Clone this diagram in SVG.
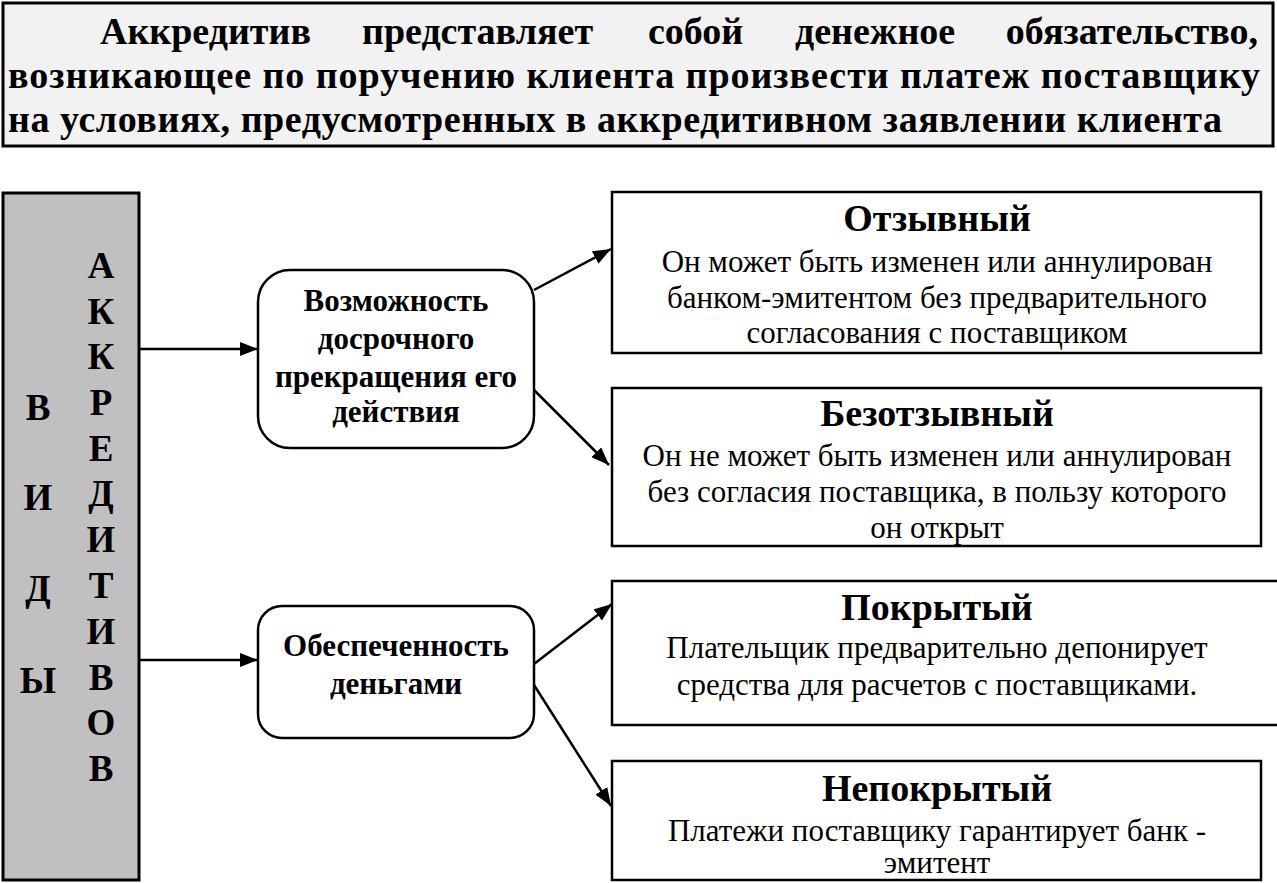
<svg xmlns="http://www.w3.org/2000/svg" width="1277" height="883" viewBox="0 0 1277 883">
<style>
  text { font-family: "Liberation Serif", "Times New Roman", serif; fill: #000; }
  .ban { font-size: 38px; font-weight: bold; }
  .vert { font-size: 37px; font-weight: bold; text-anchor: middle; }
  .mid { font-size: 31px; font-weight: bold; text-anchor: middle; }
  .ttl { font-size: 38px; font-weight: bold; text-anchor: middle; }
  .body { font-size: 31px; text-anchor: middle; }
  .box { fill: #fff; stroke: #000; stroke-width: 2.5; }
  .conn { stroke: #000; stroke-width: 2.5; fill: none; marker-end: url(#arr); }
</style>
<defs>
  <marker id="arr" markerUnits="userSpaceOnUse" markerWidth="20" markerHeight="14" refX="18" refY="7" orient="auto">
    <path d="M0,0 L18,7 L0,14 Z" fill="#000"/>
  </marker>
</defs>
<rect width="1277" height="883" fill="#fff"/>

<g id="banner">
  <rect x="3" y="3" width="1270" height="143" fill="#f2f2f2" stroke="#000" stroke-width="3"/>
  <text class="ban" y="44"><tspan x="100">Аккредитив</tspan><tspan x="362">представляет</tspan><tspan x="648">собой</tspan><tspan x="795">денежное</tspan></text>
  <text class="ban" x="1258" y="44" text-anchor="end">обязательство,</text>
  <text class="ban" x="8" y="88" textLength="1252" lengthAdjust="spacing">возникающее по поручению клиента произвести платеж поставщику</text>
  <text class="ban" x="8" y="132" textLength="1214" lengthAdjust="spacing">на условиях, предусмотренных в аккредитивном заявлении клиента</text>
</g>

<g id="vidy">
  <rect x="3" y="193" width="136" height="687" fill="#c0c0c0" stroke="#000" stroke-width="3"/>
  <text class="vert" x="38" y="420">В</text>
  <text class="vert" x="38" y="510">И</text>
  <text class="vert" x="38" y="601">Д</text>
  <text class="vert" x="38" y="693">Ы</text>
  <text class="vert" x="101" y="278">А</text>
  <text class="vert" x="101" y="324">К</text>
  <text class="vert" x="101" y="369">К</text>
  <text class="vert" x="101" y="415">Р</text>
  <text class="vert" x="101" y="461">Е</text>
  <text class="vert" x="101" y="506">Д</text>
  <text class="vert" x="101" y="552">И</text>
  <text class="vert" x="101" y="598">Т</text>
  <text class="vert" x="101" y="644">И</text>
  <text class="vert" x="101" y="690">В</text>
  <text class="vert" x="101" y="735">О</text>
  <text class="vert" x="101" y="781">В</text>
</g>

<g id="vozmozhnost">
  <rect class="box" x="258" y="270" width="276" height="178" rx="32" ry="32"/>
  <text class="mid" x="396" y="311">Возможность</text>
  <text class="mid" x="396" y="349">досрочного</text>
  <text class="mid" x="396" y="387">прекращения его</text>
  <text class="mid" x="396" y="422">действия</text>
</g>

<g id="obespechennost">
  <rect class="box" x="258" y="606" width="276" height="132" rx="24" ry="24"/>
  <text class="mid" x="396" y="656">Обеспеченность</text>
  <text class="mid" x="396" y="694">деньгами</text>
</g>

<g id="otzyvnyi">
  <rect class="box" x="612" y="192" width="649" height="161"/>
  <text class="ttl" x="937" y="231">Отзывный</text>
  <text class="body" x="937" y="272">Он может быть изменен или аннулирован</text>
  <text class="body" x="937" y="308">банком-эмитентом без предварительного</text>
  <text class="body" x="937" y="343">согласования с поставщиком</text>
</g>

<g id="bezotzyvnyi">
  <rect class="box" x="612" y="388" width="649" height="158"/>
  <text class="ttl" x="937" y="426">Безотзывный</text>
  <text class="body" x="937" y="466">Он не может быть изменен или аннулирован</text>
  <text class="body" x="937" y="502">без согласия поставщика, в пользу которого</text>
  <text class="body" x="937" y="538">он открыт</text>
</g>

<g id="pokrytyi">
  <rect class="box" x="612" y="581" width="668" height="144"/>
  <text class="ttl" x="937" y="620">Покрытый</text>
  <text class="body" x="937" y="658">Плательщик предварительно депонирует</text>
  <text class="body" x="937" y="695">средства для расчетов с поставщиками.</text>
</g>

<g id="nepokrytyi">
  <rect class="box" x="612" y="761" width="649" height="119"/>
  <text class="ttl" x="937" y="801">Непокрытый</text>
  <text class="body" x="937" y="841">Платежи поставщику гарантирует банк -</text>
  <text class="body" x="937" y="873">эмитент</text>
</g>

<g id="connectors">
  <line class="conn" x1="139" y1="349" x2="258" y2="349"/>
  <line class="conn" x1="139" y1="660" x2="258" y2="660"/>
  <line class="conn" x1="534" y1="290" x2="611" y2="249"/>
  <line class="conn" x1="534" y1="390" x2="609" y2="465"/>
  <line class="conn" x1="534" y1="664" x2="612" y2="604"/>
  <line class="conn" x1="534" y1="685" x2="611" y2="806"/>
</g>
</svg>
